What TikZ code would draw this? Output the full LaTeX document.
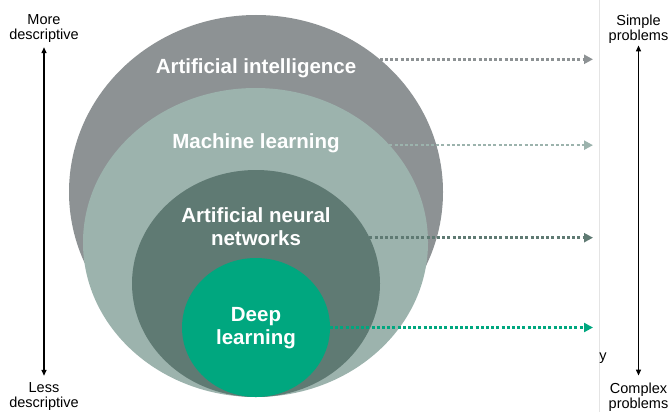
\documentclass[tikz,border=0pt]{standalone}
\usepackage{fontspec}
\setmainfont{Liberation Sans}
\usetikzlibrary{shapes.geometric,arrows.meta,positioning}

\begin{document}
\begin{tikzpicture}[x=1pt,y=-1pt,
    blob/.style={ellipse, draw=none, inner sep=0pt, outer sep=0pt},
    field/.style={text=white, font=\fontsize{20.5}{23}\selectfont\bfseries, align=center, inner sep=0pt},
    side/.style={text=black, font=\fontsize{14.5}{15}\selectfont, align=center, inner sep=0pt},
    dotarrow/.style={line width=2.6pt, dash pattern=on 3pt off 2.2pt, -{Triangle[length=9pt,width=9pt]}},
    scalearrow/.style={line width=1.3pt, {Triangle[length=6pt,width=5pt]}-{Triangle[length=6pt,width=5pt]}}]
        \definecolor{aiColor}{HTML}{8D9294}
        \definecolor{mlColor}{HTML}{9CB3AD}
        \definecolor{annColor}{HTML}{5F7A73}
        \definecolor{dlColor}{HTML}{00A77F}
        \definecolor{edgeColor}{HTML}{E4E4E4}

        \useasboundingbox (0,0) rectangle (668,412);

        % nested fields
        \node[blob, fill=aiColor, minimum width=374pt, minimum height=354pt] (ai) at (256,192) {};
        \node[blob, fill=mlColor, minimum width=345pt, minimum height=309pt] (ml) at (255.5,242.5) {};
        \node[blob, fill=annColor, minimum width=248pt, minimum height=227pt] (ann) at (256,283.5) {};
        \node[blob, fill=dlColor, minimum width=148pt, minimum height=139pt] (dl) at (256,327.5) {};

        \node[field, anchor=base] (aitext) at (256,73) {Artificial intelligence};
        \node[field, anchor=base] (mltext) at (256,148) {Machine learning};
        \node[field] (anntext) at (256,227) {Artificial neural\\networks};
        \node[field] (dltext) at (256,328) {Deep\\learning};

        % page edge
        \coordinate (edgetop) at (599,0);
        \coordinate (edgebot) at (599,412);
        \draw[edgeColor, line width=1pt] (edgetop) -- (edgebot);
        \node[side, anchor=base] (stray) at (603,360) {y};

        % dotted pointers
        \coordinate (tipx) at (593,0);
        \draw[dotarrow, aiColor] (ai.47) -- (ai.47 -| tipx);
        \draw[dotarrow, mlColor] (ml.36) -- (ml.36 -| tipx);
        \draw[dotarrow, annColor] (ann.22) -- (ann.22 -| tipx);
        \draw[dotarrow, dlColor] (dl.east) -- (dl.east -| tipx);

        % scales
        \node[side] (more) at (44,29) {More\\descriptive};
        \node[side] (less) at (44,397) {Less\\descriptive};
        \node[side] (simple) at (638.5,29) {Simple\\problems};
        \node[side] (complex) at (638.5,397) {Complex\\problems};
        \draw[scalearrow, shorten <=7pt, shorten >=4pt] (less.north) -- (more.south);
        \draw[scalearrow, shorten <=7pt, shorten >=2pt] (complex.north) -- (simple.south);
\end{tikzpicture}
\end{document}
